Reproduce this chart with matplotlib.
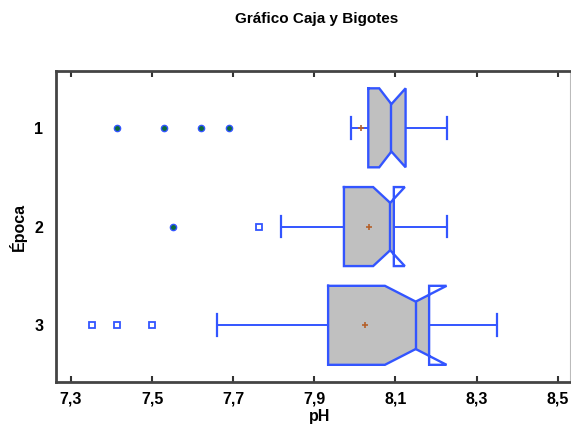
import matplotlib.pyplot as plt
from matplotlib.patches import Polygon
from matplotlib.ticker import FuncFormatter

plt.rcParams['font.family'] = ['Liberation Sans', 'DejaVu Sans']
plt.rcParams['font.weight'] = 'bold'

# datos (pH por epoca)
epocas = [1, 2, 3]
bigote_inf = [7.990, 7.817, 7.659]
q1 = [8.033, 7.973, 7.934]
mediana = [8.090, 8.087, 8.150]
q3 = [8.125, 8.096, 8.183]
bigote_sup = [8.228, 8.227, 8.350]
media = [8.016, 8.035, 8.024]
muesca_inf = [8.060, 8.045, 8.074]
muesca_sup = [8.125, 8.123, 8.226]

# atipicos lejanos (relleno) y cercanos (cuadrado)
lejanos_x = [7.414, 7.530, 7.620, 7.689, 7.552]
lejanos_y = [1, 1, 1, 1, 2]
cercanos_x = [7.763, 7.352, 7.413, 7.499]
cercanos_y = [2, 3, 3, 3]

xticks = [7.3, 7.5, 7.7, 7.9, 8.1, 8.3, 8.5]

azul = '#3355ff'
gris = '#c0c0c0'

fig = plt.figure(figsize=(5.71, 4.29), dpi=100)
ax = fig.add_axes([0.098, 0.11, 0.9, 0.725])


def caja_muesca(ax, p, lo, nlo, m, nhi, hi, h=0.4, w=0.24):
    xs = [lo, nlo, m, nhi, hi, hi, nhi, m, nlo, lo, lo]
    ys = [p - h, p - h, p - w, p - h, p - h, p + h, p + h, p + w, p + h, p + h, p - h]
    # relleno solo dentro de la caja
    if nhi > hi:
        t = (hi - m) / (nhi - m)
        yc = w + (h - w) * t
        fx = [lo, nlo, m, hi, hi, m, nlo, lo]
        fy = [p - h, p - h, p - w, p - yc, p + yc, p + w, p + h, p + h]
    else:
        fx, fy = xs[:-1], ys[:-1]
    ax.add_patch(Polygon(list(zip(fx, fy)), closed=True, facecolor=gris,
                         edgecolor='none', zorder=2))
    ax.plot(xs, ys, color=azul, lw=1.7, zorder=3, solid_joinstyle='miter')
    ax.plot([m, m], [p - w, p + w], color=azul, lw=1.7, zorder=3)


for i, p in enumerate(epocas):
    caja_muesca(ax, p, q1[i], muesca_inf[i], mediana[i], muesca_sup[i], q3[i])
    ax.plot([bigote_inf[i], q1[i]], [p, p], color=azul, lw=1.4, zorder=3)
    ax.plot([q3[i], bigote_sup[i]], [p, p], color=azul, lw=1.4, zorder=3)
    for b in (bigote_inf[i], bigote_sup[i]):
        ax.plot([b, b], [p - 0.11, p + 0.11], color=azul, lw=1.6, zorder=3)
    ax.plot(media[i], p, marker='+', color='#b5602a', ms=4, mew=1.2, zorder=4)

ax.plot(lejanos_x, lejanos_y, 'o', mfc='#0b6a3c', mec=azul, ms=4.5, mew=1.0,
        ls='none', zorder=4)
ax.plot(cercanos_x, cercanos_y, 's', mfc='white', mec=azul, ms=4, mew=1.3,
        ls='none', zorder=4)

ax.set_xlim(7.263, 8.53)
ax.set_ylim(3.572, 0.4225)
ax.set_xticks(xticks)
ax.set_yticks(epocas)
ax.xaxis.set_major_formatter(FuncFormatter(lambda v, _: f'{v:.1f}'.replace('.', ',')))
ax.tick_params(axis='x', direction='in', length=4, width=1.5, top=True,
               labelsize=11.5, pad=7, color='#333333')
ax.tick_params(axis='y', length=0, labelsize=11.5, pad=9)
for s in ('left', 'top', 'bottom'):
    ax.spines[s].set_linewidth(2)
    ax.spines[s].set_color('#444444')
ax.spines['right'].set_linewidth(0.8)
ax.spines['right'].set_color('#bbbbbb')

fig.text(317 / 571, 1 - 19 / 429, 'Gráfico Caja y Bigotes', ha='center',
         va='center', fontsize=11, fontweight='bold')
fig.text(18 / 571, 1 - 227 / 429, 'Época', rotation=90, ha='center',
         va='center', fontsize=11.5, fontweight='bold')
fig.text(320 / 571, 1 - 417 / 429, 'pH', ha='center', va='center',
         fontsize=11.5, fontweight='bold')

fig.savefig('out.png', dpi=100)
